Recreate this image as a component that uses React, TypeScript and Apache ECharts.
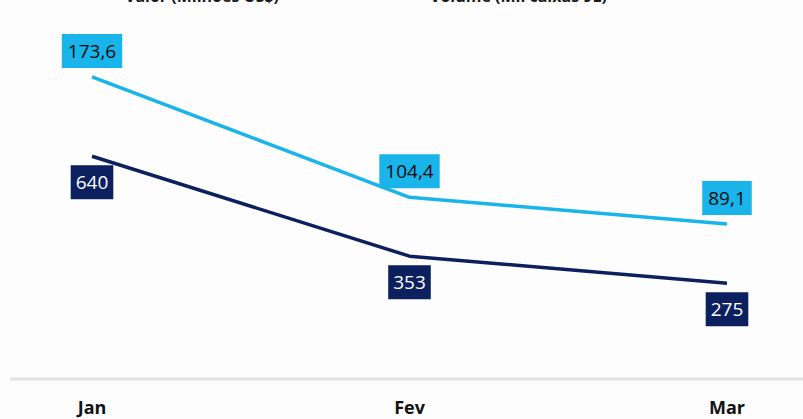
import React, { useEffect, useRef } from "react";
import * as echarts from "echarts";

const categories = ["Jan", "Fev", "Mar"];
const volumeValues = [173.6, 104.4, 89.1];
const valorValues = [640, 353, 275];
const legendNames = ["Valor (Milhões US$)", "Volume (Mil caixas 9L)"];

const fmt = (v: number) => String(v).replace(".", ",");

export default function App() {
  const ref = useRef<HTMLDivElement>(null);
  useEffect(() => {
    if (!ref.current) return;
    const chart = echarts.init(ref.current, null, { renderer: "svg" });
    const font = "'Open Sans', sans-serif";
    chart.setOption({
      animation: false,
      backgroundColor: "#fdfdfd",
      grid: { left: 92, right: 76, top: 31, bottom: 40, containLabel: false },
      graphic: [
        {
          type: "line",
          shape: { x1: 10, y1: 379, x2: 803, y2: 379 },
          style: { stroke: "#e2e2e2", lineWidth: 3 },
          z: 0,
        },
        {
          type: "text",
          x: 125,
          y: 4,
          style: {
            text: legendNames[0],
            font: `bold 16px ${font}`,
            fill: "#1a1a1a",
            textVerticalAlign: "bottom",
          },
        },
        {
          type: "text",
          x: 430,
          y: 4,
          style: {
            text: legendNames[1],
            font: `bold 16px ${font}`,
            fill: "#1a1a1a",
            textVerticalAlign: "bottom",
          },
        },
      ],
      xAxis: {
        type: "category",
        data: categories,
        boundaryGap: false,
        axisLine: { show: false },
        axisTick: { show: false },
        axisLabel: {
          margin: 19,
          fontFamily: font,
          fontWeight: "bold",
          fontSize: 18,
          color: "#111",
        },
      },
      yAxis: [
        { type: "value", min: 0, max: 200, show: false, splitLine: { show: false } },
        { type: "value", min: 0, max: 1000, show: false, splitLine: { show: false } },
      ],
      series: [
        {
          name: legendNames[1],
          type: "line",
          yAxisIndex: 0,
          data: volumeValues,
          showSymbol: true,
          symbolSize: 0,
          lineStyle: { color: "#18b4ea", width: 3.5 },
          itemStyle: { color: "#18b4ea" },
          label: {
            show: true,
            position: "top",
            distance: 9,
            formatter: (p: any) => fmt(p.value),
            backgroundColor: "#18b4ea",
            color: "#0a0a0a",
            fontFamily: font,
            fontSize: 19,
            lineHeight: 22,
            padding: [6, 6],
          },
        },
        {
          name: legendNames[0],
          type: "line",
          yAxisIndex: 1,
          data: valorValues,
          showSymbol: true,
          symbolSize: 0,
          lineStyle: { color: "#0c1f5e", width: 3.5 },
          itemStyle: { color: "#0c1f5e" },
          label: {
            show: true,
            position: "bottom",
            distance: 9,
            formatter: (p: any) => fmt(p.value),
            backgroundColor: "#0c1f5e",
            color: "#ffffff",
            fontFamily: font,
            fontSize: 19,
            lineHeight: 22,
            padding: [6, 5],
          },
        },
      ],
    });
    return () => chart.dispose();
  }, []);
  return <div ref={ref} style={{ width: 803, height: 419, position: "fixed", left: 0, top: 0 }} />;
}
